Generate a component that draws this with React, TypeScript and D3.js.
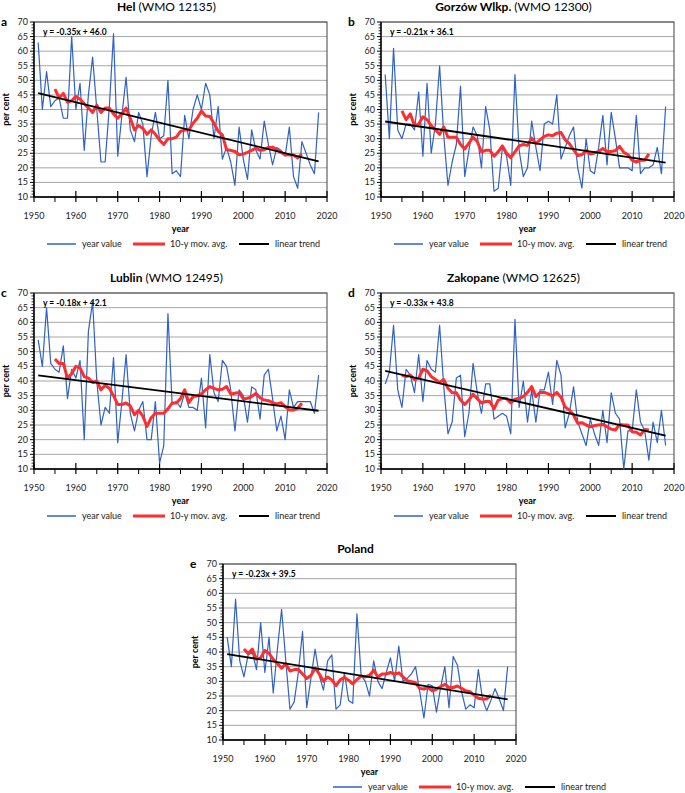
import React from 'react';
import * as d3 from 'd3';

const years = d3.range(1951, 2019);
const avgYears = d3.range(1955, 2015);
const xTicks = [1950, 1960, 1970, 1980, 1990, 2000, 2010, 2020];
const xMinor = [1955, 1965, 1975, 1985, 1995, 2005, 2015];
const yTicks = [10, 15, 20, 25, 30, 35, 40, 45, 50, 55, 60, 65, 70];

const helValues = [63, 40, 53, 41, 43, 44, 37, 37, 65, 40, 49, 26, 45, 58, 40, 22, 22, 41, 66, 24, 38, 51, 33, 29, 39, 35, 17, 31, 39, 30, 31, 50, 18, 19, 17, 38, 30, 40, 45, 40, 49, 45, 30, 41, 23, 27, 22, 14, 34, 23, 16, 33, 26, 23, 36, 28, 21, 27, 26, 24, 34, 17, 13, 29, 25, 21, 18, 39];
const helAvg = [47, 44, 45.5, 42.5, 43, 44.5, 43.5, 42, 40.5, 39, 41.5, 39, 40.5, 40.5, 38.5, 37, 38.5, 40.5, 37, 33, 34.5, 33.5, 31.5, 33, 31.5, 29.5, 28, 30, 30, 30.5, 32.5, 33, 33, 35.3, 37, 39.5, 37.8, 37.6, 35.3, 32.5, 31.3, 26.2, 26, 25.6, 24.5, 24.7, 25.3, 26, 26.8, 26, 26.2, 27, 27.1, 26.2, 25.3, 24.5, 24.4, 24.4, 23.4, 24.7];

const gorzowValues = [52, 30, 61, 33, 30, 35, 35, 33, 46, 24, 49, 25, 35, 55, 31, 14, 22, 28, 48, 17, 26, 34, 31, 20, 41, 33, 12, 13, 27, 24, 14, 52, 26, 17, 20, 36, 27, 19, 35, 36, 35, 45, 23, 27, 31, 34, 20, 13, 30, 19, 18, 27, 38, 21, 39, 30, 20, 20, 20, 19, 38, 18, 20, 20, 21, 27, 18, 41];
const gorzowAvg = [39.5, 36.5, 38.5, 34.5, 35, 37.5, 36.5, 34.5, 33, 31.5, 34, 30.5, 30.5, 30.5, 28, 26.5, 28.5, 30.5, 29, 25.5, 26, 26, 24, 25.5, 27.5, 25, 23.5, 25.5, 27.5, 28, 27.7, 30.2, 28.3, 29.6, 30.8, 31.3, 31, 31.9, 32.1, 29.6, 28.3, 26.2, 24.2, 24.5, 25.9, 24.7, 25.1, 25.6, 26.6, 25.6, 25.6, 25.9, 27.4, 25.3, 24.5, 22.6, 22, 22.6, 22.6, 24.8];

const lublinValues = [54, 45, 65, 46, 44, 43, 52, 34, 44, 41, 47, 20, 57, 67, 40, 25, 31, 29, 48, 19, 33, 49, 29, 23, 30, 33, 20, 20, 33, 12, 18, 63, 32, 33, 31, 36, 31, 31, 30, 41, 24, 49, 36, 33, 47, 45, 37, 23, 37, 35, 26, 38, 37, 27, 42, 44, 34, 23, 28, 20, 37, 31, 33, 33, 33, 33, 29, 42];
const lublinAvg = [47.5, 46, 46, 41, 42.5, 45, 44.5, 41.5, 41, 39.5, 40, 37, 38.5, 37.5, 35, 32, 32, 32.5, 31.5, 28.5, 30, 28, 24.5, 27.5, 29, 29, 29, 30.5, 32.5, 32.5, 34, 37, 32.6, 34.7, 34.9, 35.6, 37, 38.1, 37.5, 37, 37.2, 38.1, 35.6, 35.8, 36.1, 33.9, 34.1, 34.7, 35.8, 34.3, 33.5, 33.3, 32.6, 32.2, 32.6, 31.3, 30.1, 30.1, 30.7, 32.4];

const zakopaneValues = [39, 43, 59, 37, 31, 44, 42, 36, 49, 33, 47, 44, 43, 59, 38, 22, 26, 41, 42, 21, 29, 46, 36, 29, 39, 39, 27, 28, 29, 28, 22, 61, 31, 40, 26, 37, 26, 37, 37, 43, 32, 47, 42, 24, 29, 38, 26, 22, 18, 27, 22, 18, 30, 19, 36, 29, 27, 10, 23, 23, 37, 26, 23, 13, 26, 19, 30, 18];
const zakopaneAvg = [42, 41.5, 42, 40.5, 41, 44, 43.5, 41.5, 40.5, 39.5, 40.5, 37.5, 36, 36, 33.5, 32, 33.5, 35.5, 34, 32.5, 33, 33, 30.5, 33.5, 34, 34, 32.5, 33.8, 34.1, 34.7, 36.1, 38.1, 34.7, 36.1, 36.1, 35.6, 34.9, 36.1, 34.5, 31.1, 30.1, 28.4, 25.6, 25.8, 25, 24.4, 24.8, 25, 25.2, 24.4, 23.6, 23.3, 25.2, 25, 25, 22.7, 22.5, 21.6, 23.5, 23.3];

const polandValues = [45, 35, 58, 37, 31.5, 39, 40, 34, 50, 33, 45, 26, 41, 54.5, 37, 20.5, 23, 33, 47, 21, 31, 41, 32, 27, 37, 39, 20.5, 22, 33, 23.5, 22.5, 53, 32, 30, 25, 37, 30, 27.5, 33, 38, 30, 42, 30, 31, 32.5, 35, 26.5, 17.5, 29, 28.5, 19.5, 28, 35, 21, 38.5, 35.5, 26.5, 20.5, 22, 21, 34, 24, 20, 23.5, 27.5, 24, 20, 35];
const polandAvg = [41, 39.5, 41, 37.5, 38, 40.5, 39.5, 37.5, 36, 34.5, 36, 33.5, 34, 34, 32.5, 31, 32, 34.5, 32.5, 30, 31.5, 30.5, 28.5, 30.5, 31.3, 30.4, 29.1, 30.6, 31.8, 31.5, 32.1, 33.8, 31.5, 32.5, 32.5, 33, 32.5, 32.9, 31.5, 30.2, 29.9, 29.5, 27.6, 27.4, 27.9, 26.8, 27.3, 28.2, 29, 27.9, 27.9, 28.4, 27.6, 26.8, 26.5, 25.3, 24.2, 24, 24, 25.3];

const letters = ['a', 'b', 'c', 'd', 'e'];
const stationNames = ['Hel', 'Gorzów Wlkp.', 'Lublin', 'Zakopane', 'Poland'];
const stationCodes = ['(WMO 12135)', '(WMO 12300)', '(WMO 12495)', '(WMO 12625)', ''];
const trendSlopes = [-0.35, -0.21, -0.18, -0.33, -0.23];
const trendIntercepts = [46.0, 36.1, 42.1, 43.8, 39.5];
const yearSeries = [helValues, gorzowValues, lublinValues, zakopaneValues, polandValues];
const avgSeries = [helAvg, gorzowAvg, lublinAvg, zakopaneAvg, polandAvg];
const legendLabels = ['year value', '10-y mov. avg.', 'linear trend'];

// layout (pixel boxes of the plot areas)
const layouts = [
  { x0: 34, x1: 327, y0: 22, y1: 197, legendX: 34 },
  { x0: 381, x1: 674, y0: 22, y1: 197, legendX: 381 },
  { x0: 34, x1: 327, y0: 293, y1: 469, legendX: 34 },
  { x0: 381, x1: 674, y0: 293, y1: 469, legendX: 381 },
  { x0: 223, x1: 516, y0: 564, y1: 740, legendX: 320 },
];

const FONT = 'Lato, "Open Sans", sans-serif';
const BLUE = '#2f62c3';
const RED = '#ff2e2e';

function Panel({ i }: { i: number }) {
  const L = layouts[i];
  const x = d3.scaleLinear().domain([1950, 2020]).range([L.x0, L.x1]);
  const y = d3.scaleLinear().domain([10, 70]).range([L.y1, L.y0]);
  const line = d3.line<[number, number]>().x(d => x(d[0])).y(d => y(d[1]));
  const vals = yearSeries[i];
  const avg = avgSeries[i];
  const blueD = line(years.map((yr, k) => [yr, vals[k]] as [number, number])) || '';
  const redD = line(avgYears.map((yr, k) => [yr, avg[k]] as [number, number])) || '';
  const s = trendSlopes[i], b = trendIntercepts[i];
  const trendD = line([[years[0], s * 1 + b], [years[years.length - 1], s * years.length + b]]) || '';
  const minorY = d3.range(10, 71).filter(v => v % 5 !== 0);
  const cx = (L.x0 + L.x1) / 2;
  const eq = `y = ${s.toFixed(2)}x + ${b.toFixed(1)}`;
  const lx = L.legendX;
  const ly = L.y1 + 47;
  return (
    <g fontFamily={FONT}>
      {/* title */}
      <text x={cx - 14} y={L.y0 - 11} textAnchor="middle" fontSize={12} fill="#000">
        <tspan fontWeight="bold">{stationNames[i]}</tspan>
        {stationCodes[i] ? <tspan> {stationCodes[i]}</tspan> : null}
      </text>
      <text x={L.x0 - 33} y={L.y0 + 4} fontSize={12} fontWeight="bold" fill="#000">{letters[i]}</text>
      {/* grid */}
      {yTicks.map(t => (
        <line key={'g' + t} x1={L.x0} x2={L.x1} y1={y(t)} y2={y(t)} stroke="#a6a6a6" strokeWidth={1} />
      ))}
      <rect x={L.x0} y={L.y0} width={L.x1 - L.x0} height={L.y1 - L.y0} fill="none" stroke="#404040" strokeWidth={1} />
      {/* y axis */}
      <line x1={L.x0} x2={L.x0} y1={L.y0} y2={L.y1} stroke="#000" strokeWidth={1.4} />
      {yTicks.map(t => (
        <g key={'yt' + t}>
          <line x1={L.x0 - 4} x2={L.x0} y1={y(t)} y2={y(t)} stroke="#000" strokeWidth={1} />
          <text x={L.x0 - 6} y={y(t) + 3} textAnchor="end" fontSize={9} fill="#222">{t}</text>
        </g>
      ))}
      {minorY.map(t => (
        <line key={'ym' + t} x1={L.x0 - 2.5} x2={L.x0} y1={y(t)} y2={y(t)} stroke="#000" strokeWidth={0.8} />
      ))}
      {/* x axis */}
      <line x1={L.x0} x2={L.x1} y1={L.y1} y2={L.y1} stroke="#000" strokeWidth={1.4} />
      {xTicks.map(t => (
        <g key={'xt' + t}>
          <line x1={x(t)} x2={x(t)} y1={L.y1 - 6} y2={L.y1 + 5} stroke="#000" strokeWidth={1.2} />
          <text x={x(t)} y={L.y1 + 22} textAnchor="middle" fontSize={9} fill="#222">{t}</text>
        </g>
      ))}
      {xMinor.map(t => (
        <line key={'xm' + t} x1={x(t)} x2={x(t)} y1={L.y1} y2={L.y1 + 5} stroke="#000" strokeWidth={1} />
      ))}
      <text x={cx} y={L.y1 + 35} textAnchor="middle" fontSize={9} fontWeight="bold" fill="#000">year</text>
      <text transform={`translate(${L.x0 - 25},${(L.y0 + L.y1) / 2}) rotate(-90)`} textAnchor="middle" fontSize={9} fontWeight="bold" fill="#000">per cent</text>
      {/* series */}
      <path d={blueD} fill="none" stroke={BLUE} strokeWidth={1.2} strokeLinejoin="round" />
      <path d={redD} fill="none" stroke={RED} strokeWidth={3} strokeLinejoin="round" />
      <path d={trendD} fill="none" stroke="#000" strokeWidth={1.8} />
      <text x={L.x0 + 9} y={L.y0 + 13} fontSize={8.5} fontWeight="bold" fill="#000">{eq}</text>
      {/* legend */}
      <line x1={lx + 13} x2={lx + 42} y1={ly} y2={ly} stroke={BLUE} strokeWidth={1.5} />
      <text x={lx + 48} y={ly + 3} fontSize={9} fill="#222">{legendLabels[0]}</text>
      <line x1={lx + 99} x2={lx + 131} y1={ly} y2={ly} stroke={RED} strokeWidth={3} />
      <text x={lx + 136} y={ly + 3} fontSize={9} fill="#222">{legendLabels[1]}</text>
      <line x1={lx + 205} x2={lx + 235} y1={ly} y2={ly} stroke="#000" strokeWidth={2} />
      <text x={lx + 241} y={ly + 3} fontSize={9} fill="#222">{legendLabels[2]}</text>
    </g>
  );
}

export default function App() {
  return (
    <svg width={685} height={793} style={{ position: 'absolute', left: 0, top: 0, background: '#fff' }}>
      <rect x={0} y={0} width={685} height={793} fill="#fff" />
      {letters.map((_, i) => <Panel key={i} i={i} />)}
    </svg>
  );
}
